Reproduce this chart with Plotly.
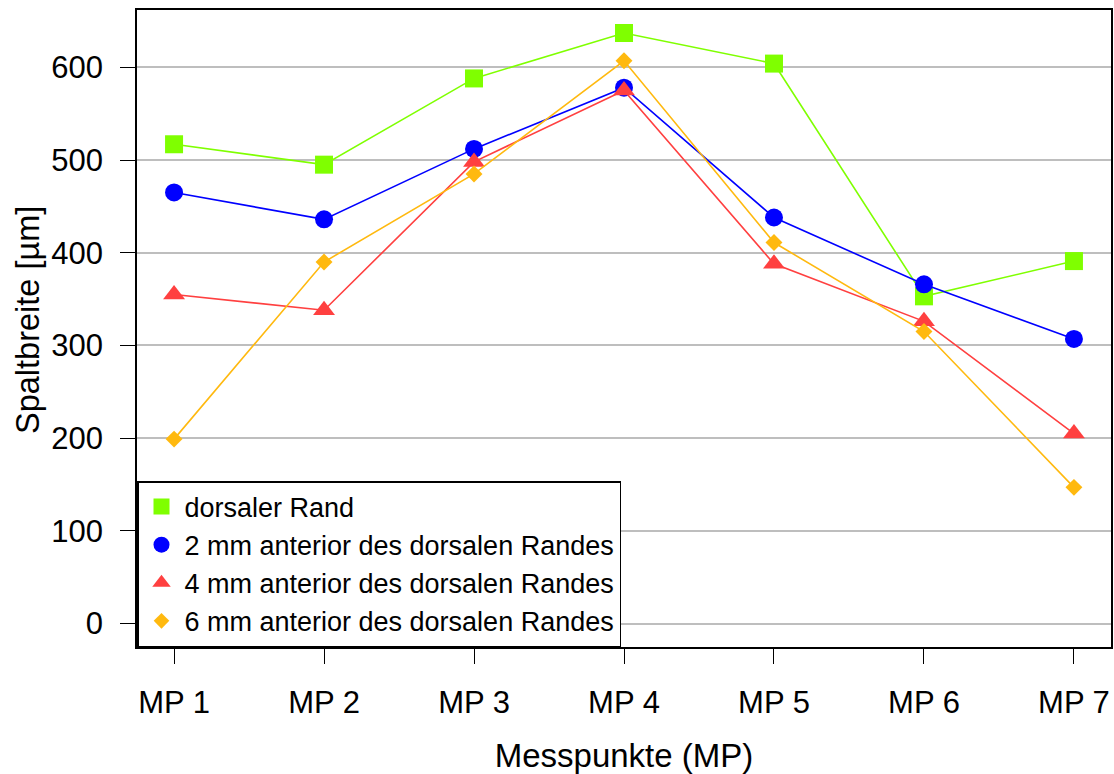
import plotly.graph_objects as go

categories = ["MP 1", "MP 2", "MP 3", "MP 4", "MP 5", "MP 6", "MP 7"]
series_names = [
    "dorsaler Rand",
    "2 mm anterior des dorsalen Randes",
    "4 mm anterior des dorsalen Randes",
    "6 mm anterior des dorsalen Randes",
]
dorsal = [517, 495, 588, 637, 604, 353, 391]
ant2 = [465, 436, 512, 578, 438, 366, 307]
ant4 = [355, 338, 498, 575, 388, 326, 205]
ant6 = [199, 390, 485, 607, 411, 315, 147]
y_ticks = [0, 100, 200, 300, 400, 500, 600]

colors = ["#7FFF00", "#0000FF", "#FF4040", "#FFB90F"]
symbols = ["square", "circle", "triangle-up", "diamond"]
sizes = [18, 18, 19, 13]
legend_sizes = [16, 16, 17, 12]
values = [dorsal, ant2, ant4, ant6]

FONT = "Liberation Sans, Arial, sans-serif"

fig = go.Figure()
for name, vals, col, sym, sz in zip(series_names, values, colors, symbols, sizes):
    fig.add_trace(go.Scatter(
        x=categories, y=vals, name=name, mode="lines+markers",
        line=dict(color=col, width=1.6),
        marker=dict(symbol=sym, size=sz, color=col, line=dict(width=0)),
        showlegend=False,
    ))
for name, col, sym, sz in zip(series_names, colors, symbols, legend_sizes):
    fig.add_trace(go.Scatter(
        x=[None], y=[None], name=name, mode="markers",
        marker=dict(symbol=sym, size=sz, color=col, line=dict(width=0)),
        showlegend=True,
    ))

fig.update_layout(
    width=1114, height=774,
    margin=dict(l=137, r=3, t=10, b=127),
    paper_bgcolor="white", plot_bgcolor="white",
    font=dict(family=FONT, size=31, color="black"),
    showlegend=True,
    legend=dict(
        x=0, y=0, xanchor="left", yanchor="bottom",
        bgcolor="white", bordercolor="black", borderwidth=1.5,
        font=dict(family=FONT, size=27, color="black"),
        tracegroupgap=0, itemsizing="trace", itemwidth=36,
    ),
    annotations=[dict(
        text="Spaltbreite [µm]", textangle=-90,
        xref="paper", yref="paper", x=0, y=(647 - 320) / 637,
        xanchor="center", yanchor="middle", xshift=-109, showarrow=False,
        font=dict(family=FONT, size=32.5, color="black"),
    )],
)
fig.update_xaxes(
    type="category", range=[-0.247, 6.247],
    showgrid=False, zeroline=False,
    showline=True, mirror=True, linecolor="black", linewidth=1.5,
    ticks="outside", ticklen=15, tickwidth=1.2, tickcolor="black",
    ticklabelstandoff=12,
    tickfont=dict(family=FONT, size=31, color="black"),
    title=dict(text="Messpunkte (MP)", font=dict(family=FONT, size=33, color="black"), standoff=28),
    automargin=False,
)
fig.update_yaxes(
    range=[-25.2, 661.8], tickvals=y_ticks,
    showgrid=True, gridcolor="#BEBEBE", gridwidth=1.8,
    zeroline=False,
    showline=True, mirror=True, linecolor="black", linewidth=1.5,
    ticks="outside", ticklen=15, tickwidth=1.2, tickcolor="black",
    ticklabelstandoff=11,
    tickfont=dict(family=FONT, size=31, color="black"),
    automargin=False,
)

fig.write_html("out.html")
